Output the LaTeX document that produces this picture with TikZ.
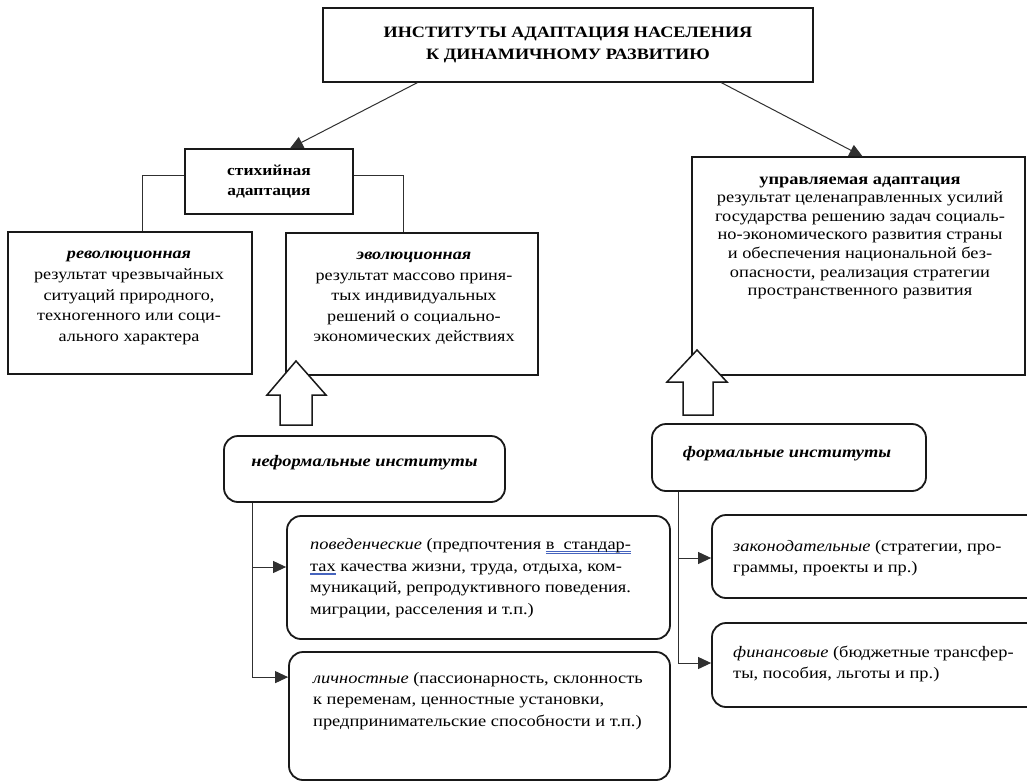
\documentclass[tikz,border=0pt]{standalone}
\usepackage{fontspec}
\setmainfont{Liberation Serif}[FakeStretch=1.15]
\usetikzlibrary{arrows.meta,calc}
\definecolor{ublue}{RGB}{70,100,190}
\definecolor{ink}{RGB}{25,25,25}
\newcommand\blueul[1]{\setbox0\hbox{#1}\rlap{\color{ublue}\rule[-2.4pt]{\wd0}{0.6pt}}\rlap{\color{ublue}\rule[-4pt]{\wd0}{0.6pt}}\box0\relax}
\begin{document}
\begin{tikzpicture}[x=1pt,y=-1pt,
  sq/.style={draw=ink, line width=1.3pt, inner sep=0pt, fill=white},
  rbox/.style={draw=ink, line width=1.8pt, rounded corners=14pt, inner sep=0pt},
  conn/.style={draw=ink!90, line width=1pt},
  arr/.style={conn, -{Triangle[length=13pt,width=12pt]}},
  blockarr/.style={draw=ink, line width=1.5pt, fill=white, line join=miter},
  body/.style={font=\fontsize{16}{18.6}\selectfont, inner sep=0pt},
  ctxt/.style={body, align=center},
  mtxt/.style={font=\fontsize{15.8}{20.6}\selectfont, inner sep=0pt, align=center},
  ltxt/.style={font=\fontsize{16}{21.6}\selectfont, inner sep=0pt, align=left, anchor=west}
]
\useasboundingbox (0,0) rectangle (1027,782);
\fill[white] (0,0) rectangle (1027,782);

% top
\node[sq, minimum width=490pt, minimum height=74pt, align=center,
      font=\fontsize{15.8}{22}\selectfont\bfseries] (top) at (568,45)
  {ИНСТИТУТЫ АДАПТАЦИЯ НАСЕЛЕНИЯ\\К ДИНАМИЧНОМУ РАЗВИТИЮ};

% stikhiynaya
\node[sq, minimum width=168pt, minimum height=65pt, align=center,
      font=\fontsize{15.2}{20}\selectfont\bfseries] (stix) at (269,181.5)
  {стихийная\\адаптация};

% revolution / evolution
\node[sq, minimum width=244pt, minimum height=142pt] (rev) at (130,303) {};
\node[mtxt] (revT) at ($(rev.center)+(-1,-5)$)
  {\textbf{\textit{революционная}}\\результат чрезвычайных\\ситуаций природного,\\техногенного или соци-\\ального характера};
\node[sq, minimum width=252pt, minimum height=142pt] (evo) at (412,304) {};
\node[mtxt] (evoT) at ($(evo.center)+(2,-5.5)$)
  {\textbf{\textit{эволюционная}}\\результат массово приня-\\тых индивидуальных\\решений о социально-\\экономических действиях};

% upravlyaemaya
\node[sq, minimum width=333pt, minimum height=218pt] (upr) at (858.5,266) {};
\node[ctxt, anchor=north] (uprT) at ($(upr.north)+(1.5,20)$)
  {\textbf{управляемая адаптация}\\результат целенаправленных усилий\\государства решению задач социаль-\\но-экономического развития страны\\и обеспечения национальной без-\\опасности, реализация стратегии\\пространственного развития};

% arrows from top
\draw[arr] ($(top.south west)+(95,0)$) -- ($(stix.north)+(21,0)$);
\draw[arr] ($(top.south west)+(399,0)$) -- ($(upr.north)+(4,0)$);

% stix to rev/evo
\draw[conn] ($(stix.west)+(0,-6.5)$) -| (rev.north -| 142,0);
\draw[conn] ($(stix.east)+(0,-6.5)$) -| (evo.north -| 403,0);

% informal
\node[rbox, minimum width=281pt, minimum height=66pt] (nef) at (364.5,469) {};
\node[body, font=\fontsize{16}{18.6}\selectfont\bfseries\itshape] (nefT) at ($(nef.center)+(0,-6)$) {неформальные институты};

\node[rbox, minimum width=383pt, minimum height=123pt] (pov) at (478.5,577.5) {};
\node[ltxt] (povT) at (310,578)
  {\textit{поведенческие} (предпочтения \blueul{в\ \ стандар-}\\\blueul{тах} качества жизни, труда, отдыха, ком-\\муникаций, репродуктивного поведения.\\миграции, расселения и т.п.)};

\node[rbox, minimum width=381pt, minimum height=128pt] (lich) at (479.5,716) {};
\node[ltxt] (lichT) at (313,701)
  {\textit{личностные} (пассионарность, склонность\\к переменам, ценностные установки,\\предпринимательские способности и т.п.)};

\draw[arr] ($(nef.south west)+(29,0)$) |- ($(pov.west)+(0,-10.5)$);
\draw[arr] ($(nef.south west)+(29,0)$) |- ($(lich.north west)+(0,26)$);

% formal
\node[rbox, minimum width=274pt, minimum height=67pt] (form) at (789,457.5) {};
\node[body, font=\fontsize{16}{18.6}\selectfont\bfseries\itshape] (formT) at ($(form.center)+(-2,-4)$) {формальные институты};

\node[rbox, minimum width=328pt, minimum height=83pt] (zak) at (876,556.5) {};
\node[ltxt] (zakT) at (733,558)
  {\textit{законодательные} (стратегии, про-\\граммы, проекты и пр.)};

\node[rbox, minimum width=328pt, minimum height=84pt] (fin) at (876,665) {};
\node[ltxt] (finT) at (733,664)
  {\textit{финансовые} (бюджетные трансфер-\\ты, пособия, льготы и пр.)};

\draw[arr] ($(form.south west)+(27,0)$) |- ($(zak.west)+(0,1.5)$);
\draw[arr] ($(form.south west)+(27,0)$) |- ($(fin.west)+(0,-2)$);

% block arrows
\draw[blockarr] (280,425) -- (280,395) -- (267,395) -- (296,361) -- (326,395) -- (312,395) -- (312,425) -- cycle;
\draw[blockarr] (683,415) -- (683,382) -- (667,382) -- (697,350) -- (727,382) -- (713,382) -- (713,415) -- cycle;
\end{tikzpicture}
\end{document}
